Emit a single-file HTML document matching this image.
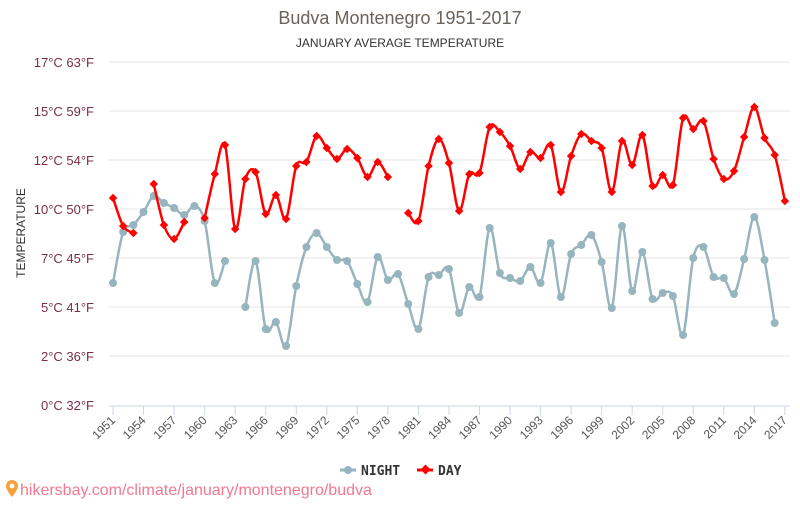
<!DOCTYPE html>
<html><head><meta charset="utf-8"><style>
body{margin:0;background:#fff;width:800px;height:500px;overflow:hidden;font-family:"Liberation Sans",sans-serif}
</style></head><body>
<svg id="c" width="800" height="500" xmlns="http://www.w3.org/2000/svg" font-family="Liberation Sans, sans-serif">
<text x="400" y="24" text-anchor="middle" font-size="18" fill="#6b625a">Budva Montenegro 1951-2017</text>
<text x="400" y="47" text-anchor="middle" font-size="12" fill="#333">JANUARY AVERAGE TEMPERATURE</text>
<text transform="translate(25,233) rotate(-90)" text-anchor="middle" font-size="12" fill="#333">TEMPERATURE</text>
<g id="grid"></g>
<g id="series"></g>
<g font-size="13" font-weight="bold" font-family="DejaVu Sans Mono, monospace" fill="#333">
<line x1="340" y1="470" x2="356" y2="470" stroke="#97b5be" stroke-width="3"/><circle cx="348" cy="470" r="4" fill="#97b5be"/>
<text x="361" y="475">NIGHT</text>
<line x1="417" y1="470" x2="433" y2="470" stroke="#f00" stroke-width="3"/><rect x="422" y="466" width="7" height="7" fill="#f00" transform="rotate(45 425.5 469.5)"/>
<text x="438" y="475">DAY</text>
</g>
<g transform="translate(6,480)"><path d="M6 0a6 6 0 0 1 6 6c0 4-6 11-6 11s-6-7-6-11a6 6 0 0 1 6-6z" fill="#f4a13a"/><circle cx="6" cy="6" r="2.4" fill="#fff"/></g>
<text x="20" y="495" font-size="16" fill="#f2788f">hikersbay.com/climate/january/montenegro/budva</text>
</svg>
<script>
var ns="http://www.w3.org/2000/svg";
function el(t,a,p){var e=document.createElementNS(ns,t);for(var k in a)e.setAttribute(k,a[k]);if(p)p.appendChild(e);return e;}
var g=document.getElementById('grid'),s=document.getElementById('series');
var labs=[["17°C 63°F",62],["15°C 59°F",111],["12°C 54°F",160],["10°C 50°F",209],["7°C 45°F",258],["5°C 41°F",307],["2°C 36°F",356],["0°C 32°F",405]];
labs.forEach(function(l){
 if(l[1]<405)el('line',{x1:109,x2:790,y1:l[1],y2:l[1],stroke:'#e6e6e6','stroke-width':1},g);
 var t=el('text',{x:94,y:l[1]+5,'text-anchor':'end','font-size':13,fill:'#7a2d4a'},g);t.textContent=l[0];
});
el('line',{x1:109,x2:790,y1:406,y2:406,stroke:'#ccd6eb','stroke-width':1},g);
function X(i){return 113+i*10.18;}
for(var i=0;i<=66;i+=3){
 var x=X(i);el('line',{x1:x,x2:x,y1:406,y2:415,stroke:'#ccd6eb'},g);
 var t=el('text',{x:x+3,y:421,'text-anchor':'end','font-size':12,fill:'#555',transform:'rotate(-45 '+(x+3)+' 421)'},g);t.textContent=1951+i;
}
var N=null;
var day=[198,226,233,N,184,225,239,222,N,218,174,145,229,179,172,214,195,219,166,162,136,148,159,149,158,177,162,177,N,213,221,166,139,163,211,174,173,127,132,146,169,152,158,145,192,156,134,141,148,192,141,165,135,186,175,185,118,129,121,159,179,171,137,107,138,155,201];
var night=[283,232,225,212,196,203,208,215,206,221,283,261,N,307,261,329,322,346,286,247,233,247,260,261,284,302,257,280,274,304,329,277,275,269,313,287,297,228,273,278,281,267,283,243,297,254,245,235,262,308,226,291,252,299,293,296,335,258,247,277,278,294,259,217,260,323,N];
function draw(d,col,mk){
 var segs=[],cur=[];
 d.forEach(function(v,i){if(v===null){if(cur.length)segs.push(cur);cur=[];}else cur.push([X(i),v]);});
 if(cur.length)segs.push(cur);
 segs.forEach(function(p){
  if(p.length<2)return;
  var dd='M'+p[0][0]+' '+p[0][1];
  for(var i=0;i<p.length-1;i++){
   var p0=p[i-1]||p[i],p1=p[i],p2=p[i+1],p3=p[i+2]||p2,k=6;
   dd+=' C'+(p1[0]+(p2[0]-p0[0])/k)+' '+(p1[1]+(p2[1]-p0[1])/k)+' '+(p2[0]-(p3[0]-p1[0])/k)+' '+(p2[1]-(p3[1]-p1[1])/k)+' '+p2[0]+' '+p2[1];
  }
  el('path',{d:dd,fill:'none',stroke:col,'stroke-width':2.5},s);
 });
 d.forEach(function(v,i){if(v===null)return;var x=X(i);
  if(mk)el('rect',{x:x-3,y:v-3,width:6,height:6,fill:col,transform:'rotate(45 '+x+' '+v+')'},s);
  else el('circle',{cx:x,cy:v,r:4,fill:col},s);});
}
draw(night,'#97b5be',false);
draw(day,'#ff0000',true);
</script>
</body></html>
